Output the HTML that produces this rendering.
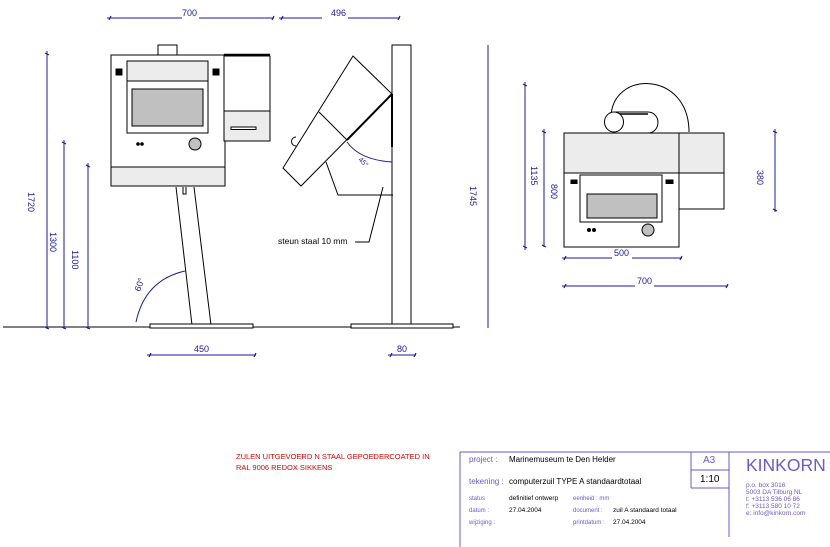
<!DOCTYPE html>
<html><head><meta charset="utf-8"><style>
html,body{margin:0;padding:0;background:#fff;}
svg{display:block;font-family:"Liberation Sans",sans-serif;}
</style></head><body>
<svg width="830" height="547" viewBox="0 0 830 547" xmlns="http://www.w3.org/2000/svg">
<g stroke="#000" stroke-width="1" fill="none">
<line x1="3" y1="327" x2="460" y2="327"/>
<rect x="158" y="45" width="19" height="10" fill="#fff"/>
<rect x="111" y="55" width="114" height="131" fill="#fff"/>
<rect x="111" y="167" width="114" height="19" fill="#ececec"/>
<rect x="127" y="61" width="81" height="72" fill="#fff"/>
<rect x="127" y="61" width="81" height="20" fill="#ececec"/>
<rect x="132" y="89" width="71" height="37" fill="#c0c0c0"/>
<rect x="116" y="69" width="6" height="6" fill="#000"/>
<rect x="213" y="69" width="6" height="6" fill="#000"/>
<circle cx="138" cy="144" r="1.3" fill="#000"/>
<circle cx="142" cy="144" r="1.3" fill="#000"/>
<circle cx="195" cy="144" r="6" fill="#c0c0c0"/>
<rect x="224" y="56" width="46" height="85" fill="#fff"/>
<rect x="224" y="111" width="46" height="30" fill="#ececec"/>
<line x1="224" y1="55" x2="270" y2="55" stroke-width="2.5"/>
<rect x="231" y="127" width="25" height="2.5" fill="#fff"/>
<line x1="176" y1="187" x2="192" y2="325"/>
<line x1="194" y1="187" x2="211" y2="325"/>
<polyline points="183,187 183,194 186,194 186,187"/>
<rect x="150" y="324" width="103" height="4" fill="#fff"/>
<rect x="392" y="45" width="19" height="280" fill="#fff"/>
<rect x="351" y="324" width="102" height="4" fill="#fff"/>
<polygon points="353,56 392,94 301,186 283,168" fill="#fff"/>
<line x1="319" y1="112" x2="347" y2="140"/>
<line x1="347" y1="140" x2="392" y2="94" stroke-width="2"/>
<line x1="392" y1="94" x2="392" y2="147" stroke-width="2"/>
<polyline points="326,162 338,195 393,195"/>
<polyline points="383,187 369,242 355,242"/>
<path d="M296,137 A4,4 0 0 0 296,146"/>
<path d="M611,118 C611,70 689,70 689,132" fill="#fff"/>
<path d="M614,112 L648,112 A10,10.5 0 0 1 648,133 L614,133" fill="#fff"/>
<line x1="614" y1="114" x2="648" y2="114" stroke-width="1.5"/>
<ellipse cx="614" cy="122" rx="9.5" ry="10" fill="#fff"/>
<rect x="564" y="133" width="115" height="114" fill="#fff"/>
<rect x="564" y="133" width="115" height="40" fill="#ececec"/>
<rect x="679" y="133" width="45" height="76" fill="#fff"/>
<rect x="679" y="133" width="45" height="40" fill="#ececec"/>
<rect x="580" y="175" width="82" height="47" fill="#fff"/>
<rect x="587" y="194" width="70" height="24" fill="#c0c0c0"/>
<rect x="571" y="180" width="6" height="3.5" fill="#000"/>
<rect x="666" y="180" width="7" height="3.5" fill="#000"/>
<circle cx="589" cy="230" r="1.5" fill="#000"/>
<circle cx="594" cy="230" r="1.5" fill="#000"/>
<circle cx="648" cy="230" r="6" fill="#c0c0c0"/>
</g>
<g stroke="#1a1aa0" stroke-width="1" fill="none">
<line x1="107" y1="18" x2="182" y2="18"/><line x1="199" y1="18" x2="274" y2="18"/>
<line x1="279" y1="18" x2="322" y2="18"/><line x1="348" y1="18" x2="400" y2="18"/>
<line x1="47" y1="51" x2="47" y2="329"/>
<line x1="64" y1="140" x2="64" y2="329"/>
<line x1="88" y1="163" x2="88" y2="329"/>
<line x1="147" y1="355" x2="256" y2="355"/>
<line x1="388" y1="355" x2="416" y2="355"/>
<path d="M136,322 Q145,280 185,271"/>
<path d="M347,142 Q360,160 392,162"/>
<line x1="488" y1="45" x2="488" y2="328"/>
<line x1="525" y1="82" x2="525" y2="250"/>
<line x1="544" y1="129" x2="544" y2="247"/>
<line x1="775" y1="129" x2="775" y2="212"/>
<line x1="562" y1="258" x2="612" y2="258"/><line x1="632" y1="258" x2="682" y2="258"/>
<line x1="562" y1="286" x2="635" y2="286"/><line x1="654" y1="286" x2="728" y2="286"/>
<g stroke-width="1.2">
<path d="M109,20 L111,16 M272,20 L274,16 M281,20 L283,16 M398,20 L400,16"/>
<path d="M149,357 L151,353 M254,357 L256,353 M390,357 L392,353 M414,357 L416,353"/>
<path d="M45,53 L49,55 M62,142 L66,144 M86,165 L90,167 M45,327 L49,329 M62,327 L66,329 M86,327 L90,329"/>
<path d="M564,260 L566,256 M680,260 L682,256 M564,288 L566,284 M726,288 L728,284"/>
<path d="M523,84 L527,86 M542,131 L546,133 M523,246 L527,248 M542,245 L546,247 M773,131 L777,133 M773,209 L777,211"/>
</g>
</g>
<g fill="#1a1aa0" font-size="9">
<text x="182" y="16">700</text><text x="331" y="16">496</text>
<text x="194" y="352">450</text><text x="397" y="352">80</text>
<text x="614" y="256">500</text><text x="637" y="284">700</text>
<text transform="translate(28,192) rotate(90)">1720</text>
<text transform="translate(50,232) rotate(90)">1300</text>
<text transform="translate(72,250) rotate(90)">1100</text>
<text transform="translate(470,186) rotate(90)">1745</text>
<text transform="translate(531,166) rotate(90)">1135</text>
<text transform="translate(551,184) rotate(90)">800</text>
<text transform="translate(757,170) rotate(90)">380</text>
<text transform="translate(140,292) rotate(-70)">60°</text>
<text transform="translate(358,160) rotate(45)" font-size="7">45°</text>
</g>
<text x="278" y="244" font-size="8.5" fill="#000">steun staal 10 mm</text>
<g fill="#e00000" font-size="7.5">
<text x="236" y="459">ZULEN UITGEVOERD N STAAL GEPOEDERCOATED IN</text>
<text x="236" y="470">RAL 9006 REDOX SIKKENS</text>
</g>
<g stroke="#6a5acd" stroke-width="1">
<line x1="460" y1="452" x2="830" y2="452"/>
<line x1="460" y1="452" x2="460" y2="547"/>
<line x1="691" y1="452" x2="691" y2="488"/>
<line x1="729" y1="452" x2="729" y2="537"/>
<line x1="691" y1="470" x2="729" y2="470"/>
<line x1="691" y1="488" x2="729" y2="488"/>
</g>
<g font-size="8" fill="#000">
<text x="469" y="462" fill="#6a5acd">project :</text>
<text x="509" y="462">Marinemuseum te Den Helder</text>
<text x="469" y="484" fill="#6a5acd">tekening :</text>
<text x="509" y="484">computerzuil TYPE A standaardtotaal</text>
<text x="703" y="463" font-size="10" fill="#6a5acd">A3</text>
<text x="700" y="482" font-size="10">1:10</text>
</g>
<g font-size="6" fill="#6a5acd">
<text x="469" y="500">status</text><text x="469" y="512">datum :</text><text x="469" y="524">wijziging :</text>
<text x="573" y="500">eenheid : mm</text><text x="573" y="512">document :</text><text x="573" y="524">printdatum :</text>
</g>
<g font-size="6.5" fill="#000">
<text x="509" y="500">definitief ontwerp</text><text x="509" y="512">27.04.2004</text>
<text x="613" y="512">zuil A standaard totaal</text><text x="613" y="524">27.04.2004</text>
</g>
<text x="746" y="471" font-size="17.5" fill="#6a5acd">KINKORN</text>
<g font-size="6.5" fill="#6a5acd">
<text x="746" y="487">p.o. box 3016</text>
<text x="746" y="494">5003 DA   Tilburg NL</text>
<text x="746" y="501">t: +3113  536 06 86</text>
<text x="746" y="508">f: +3113  580 10 72</text>
<text x="746" y="515">e: info@kinkorn.com</text>
</g>
</svg>
</body></html>
